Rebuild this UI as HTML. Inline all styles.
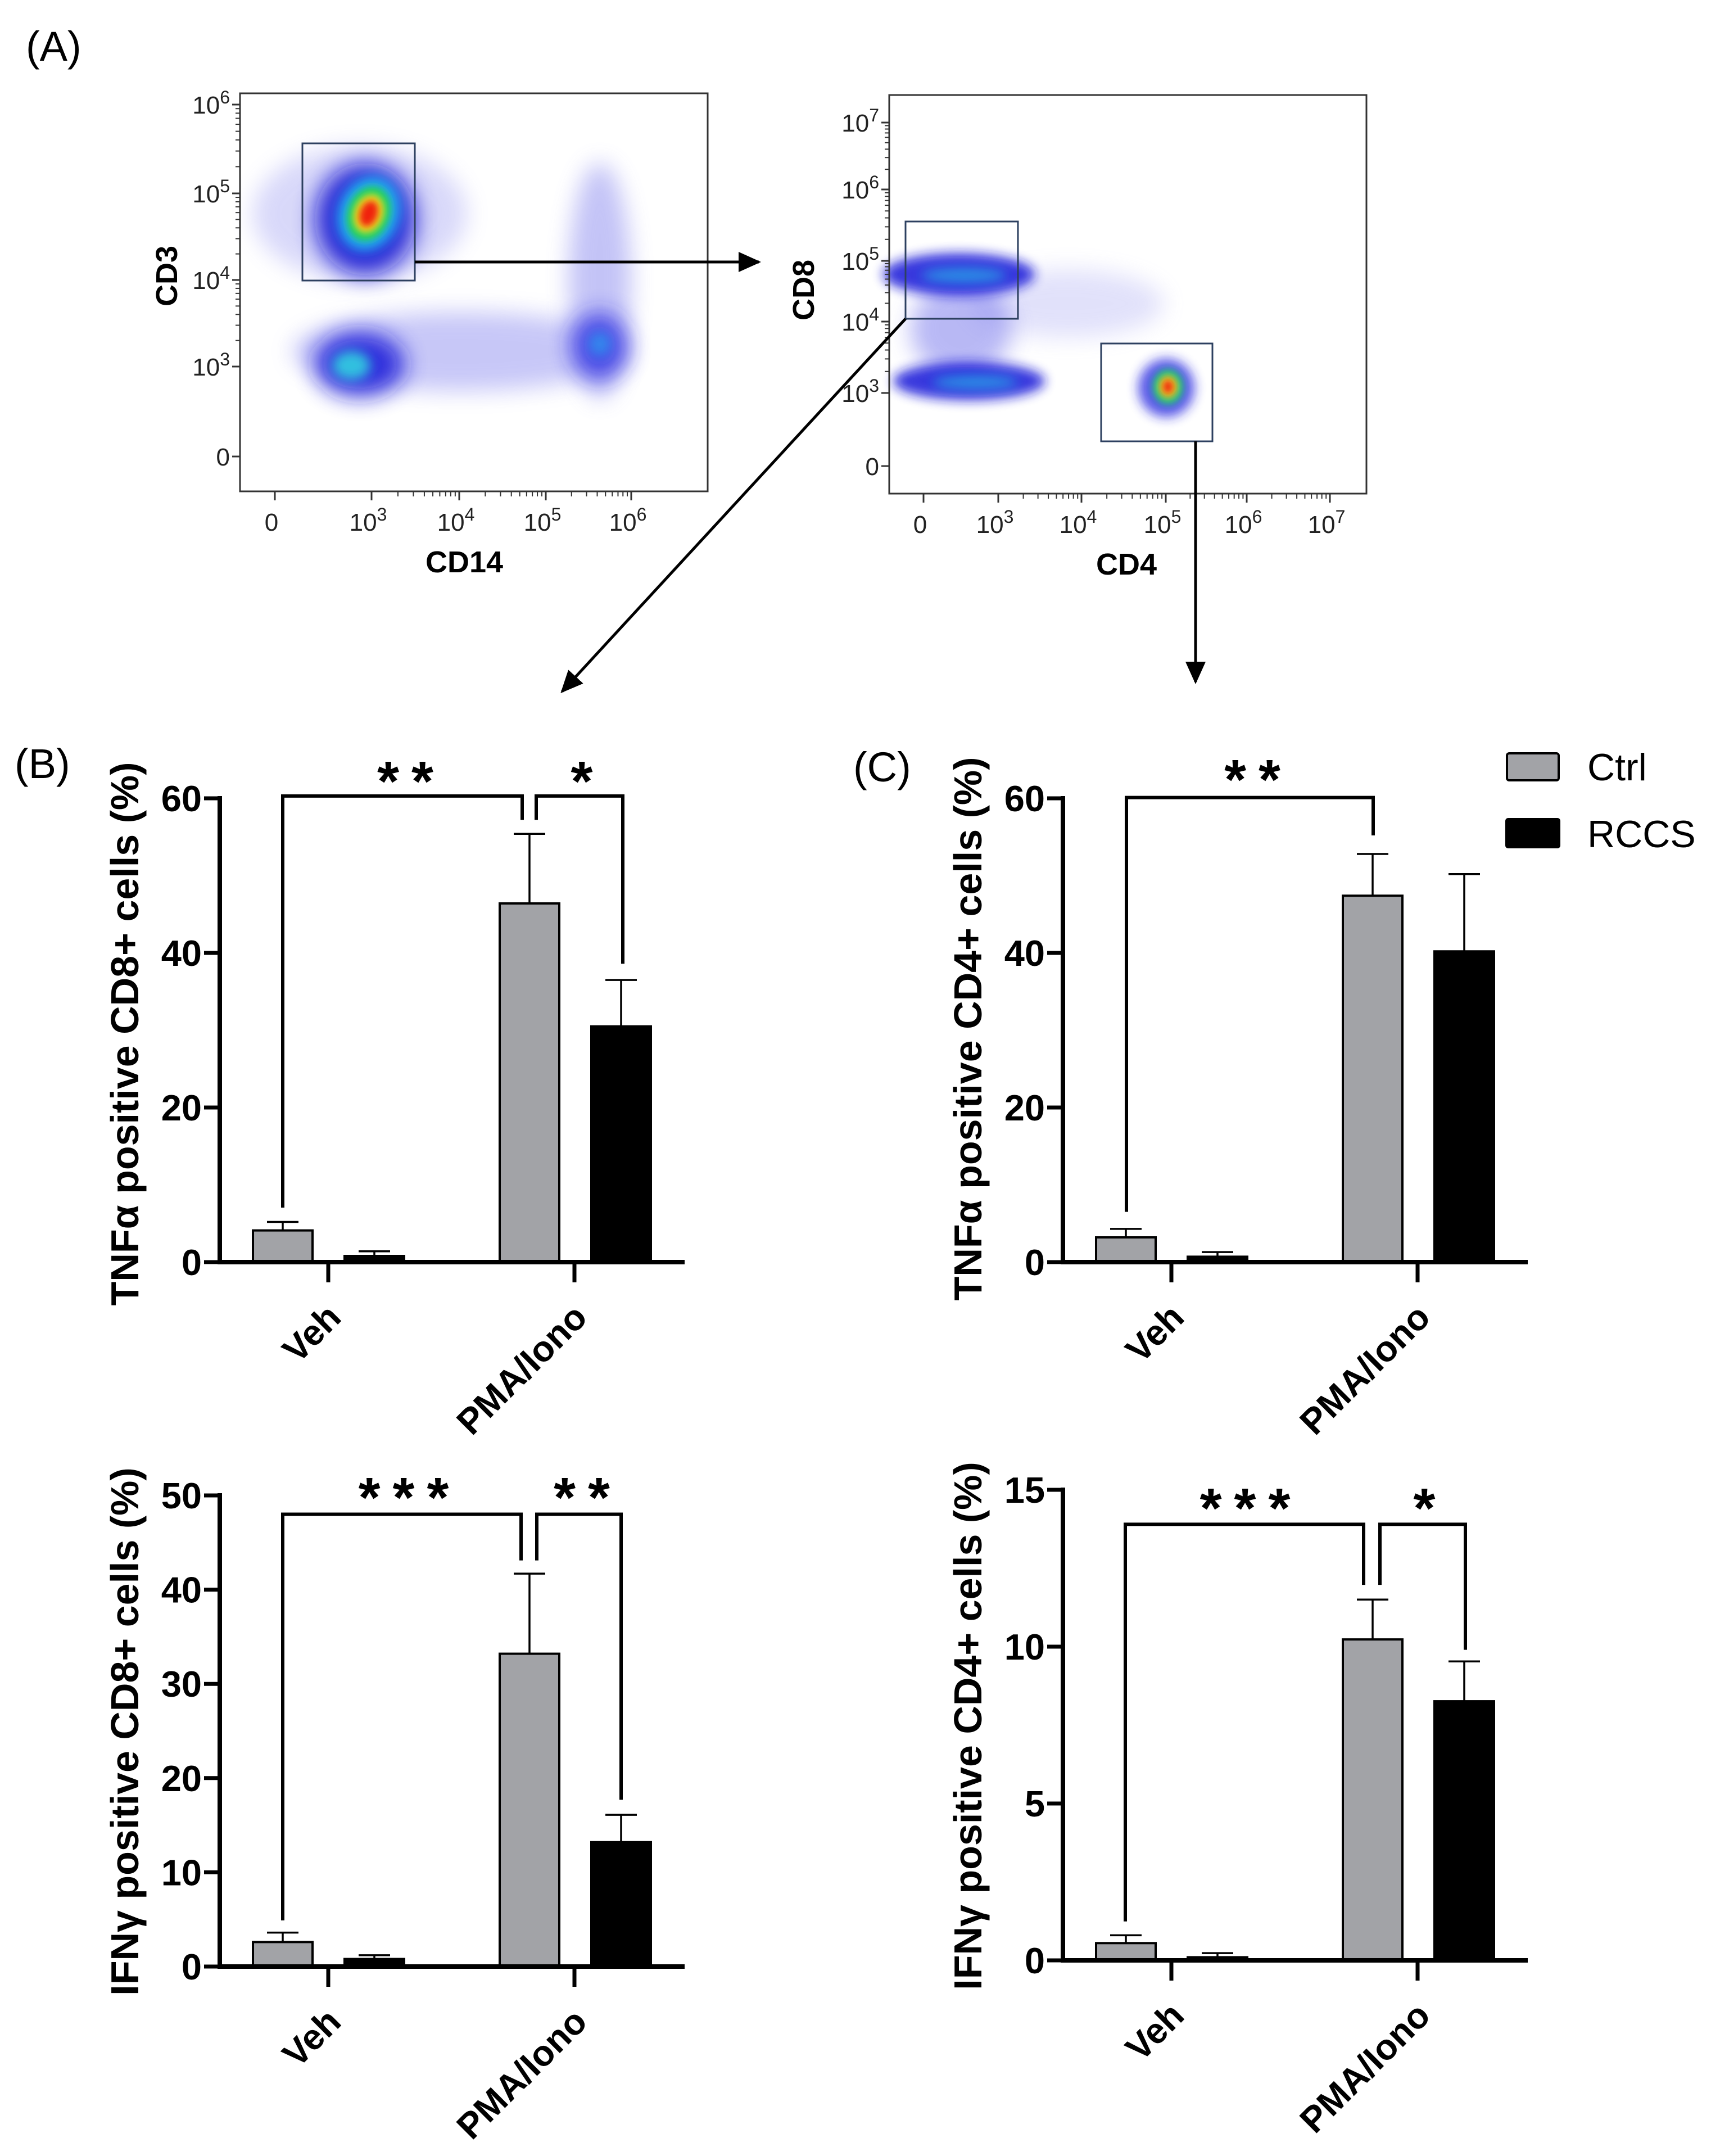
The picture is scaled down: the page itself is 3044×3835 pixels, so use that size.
<!DOCTYPE html>
<html><head><meta charset="utf-8"><style>
html,body{margin:0;padding:0;background:#fff}
svg{display:block}
text{font-family:"Liberation Sans",Arial,sans-serif}
</style></head><body>
<svg id="fig" width="3044" height="3835" viewBox="0 0 3044 3835" xmlns="http://www.w3.org/2000/svg">
<defs>
<filter id="blur20" x="-50%" y="-50%" width="200%" height="200%"><feGaussianBlur stdDeviation="20"/></filter>
<filter id="blur10" x="-50%" y="-50%" width="200%" height="200%"><feGaussianBlur stdDeviation="10"/></filter>
<filter id="blur6" x="-50%" y="-50%" width="200%" height="200%"><feGaussianBlur stdDeviation="6"/></filter>
<marker id="ahb" markerWidth="40" markerHeight="40" refX="36" refY="20" orient="auto" markerUnits="userSpaceOnUse"><path d="M0,2 L40,20 L0,38 z" fill="#000"/></marker>
</defs>

<text x="46" y="108" font-size="74">(A)</text>
<text x="26" y="1384" font-size="74">(B)</text>
<text x="1518" y="1390" font-size="74">(C)</text>

<!-- Flow plot 1 -->
<g>
  <g>
    <ellipse cx="640" cy="380" rx="190" ry="120" fill="#8080ee" opacity="0.3" filter="url(#blur20)"/>
    <ellipse cx="820" cy="625" rx="300" ry="70" fill="#6060ea" opacity="0.35" filter="url(#blur20)"/>
    <ellipse cx="1067" cy="500" rx="55" ry="210" fill="#6a6aea" opacity="0.4" filter="url(#blur20)"/>
    <ellipse cx="1067" cy="615" rx="50" ry="60" fill="#2020e0" opacity="0.7" filter="url(#blur20)"/>
    <ellipse cx="1067" cy="612" rx="20" ry="22" fill="#2aa0f0" opacity="0.7" filter="url(#blur10)"/>
    <ellipse cx="640" cy="648" rx="80" ry="58" fill="#1818d8" opacity="0.85" filter="url(#blur20)"/>
    <ellipse cx="625" cy="650" rx="34" ry="26" fill="#30d0e0" opacity="0.9" filter="url(#blur10)"/>
    <ellipse cx="650" cy="390" rx="90" ry="100" fill="#1010d0" opacity="0.85" filter="url(#blur20)"/>
    <ellipse cx="656" cy="380" rx="55" ry="68" fill="#20a8f0" filter="url(#blur10)" transform="rotate(20 656 380)"/>
    <ellipse cx="656" cy="380" rx="38" ry="50" fill="#20d060" filter="url(#blur6)" transform="rotate(20 656 380)"/>
    <ellipse cx="656" cy="380" rx="26" ry="35" fill="#f0e020" filter="url(#blur6)" transform="rotate(20 656 380)"/>
    <ellipse cx="656" cy="380" rx="16" ry="24" fill="#f02010" filter="url(#blur6)" transform="rotate(20 656 380)"/>
  </g>
  <rect x="427" y="166" width="832" height="708" fill="none" stroke="#333" stroke-width="3"/>
  <rect x="538" y="255" width="200" height="244" fill="none" stroke="#2d4060" stroke-width="3"/>
  <g id="p1ticks"></g>
  <text x="826" y="1018" font-size="54" font-weight="bold" text-anchor="middle">CD14</text>
  <text x="315" y="491" font-size="54" font-weight="bold" text-anchor="middle" transform="rotate(-90 315 491)">CD3</text>
</g>
<line x1="738" y1="466" x2="1350" y2="466" stroke="#000" stroke-width="5" marker-end="url(#ahb)"/>

<!-- Flow plot 2 -->
<g>
  <g>
    <ellipse cx="1900" cy="540" rx="170" ry="60" fill="#8a8aee" opacity="0.25" filter="url(#blur20)"/>
    <ellipse cx="1710" cy="585" rx="90" ry="85" fill="#5050e6" opacity="0.4" filter="url(#blur20)"/>
    <ellipse cx="1706" cy="488" rx="135" ry="38" fill="#1818d8" opacity="0.85" filter="url(#blur10)"/>
    <ellipse cx="1715" cy="490" rx="75" ry="14" fill="#28b0e8" opacity="0.7" filter="url(#blur10)"/>
    <ellipse cx="1724" cy="678" rx="135" ry="34" fill="#1818d8" opacity="0.85" filter="url(#blur10)"/>
    <ellipse cx="1735" cy="680" rx="75" ry="13" fill="#28b0e8" opacity="0.7" filter="url(#blur10)"/>
    <ellipse cx="2075" cy="690" rx="50" ry="52" fill="#2020e0" opacity="0.75" filter="url(#blur10)"/>
    <ellipse cx="2078" cy="688" rx="28" ry="32" fill="#20c080" filter="url(#blur6)"/>
    <ellipse cx="2078" cy="688" rx="17" ry="20" fill="#f0d020" filter="url(#blur6)"/>
    <ellipse cx="2078" cy="688" rx="9" ry="12" fill="#f02010" filter="url(#blur6)"/>
  </g>
  <rect x="1582" y="169" width="849" height="709" fill="none" stroke="#333" stroke-width="3"/>
  <rect x="1611" y="394" width="200" height="173" fill="none" stroke="#2d4060" stroke-width="3"/>
  <rect x="1959" y="611" width="198" height="174" fill="none" stroke="#2d4060" stroke-width="3"/>
  <g id="p2ticks"></g>
  <text x="2004" y="1022" font-size="54" font-weight="bold" text-anchor="middle">CD4</text>
  <text x="1448" y="516" font-size="54" font-weight="bold" text-anchor="middle" transform="rotate(-90 1448 516)">CD8</text>
</g>
<line x1="1611" y1="567" x2="1000" y2="1230" stroke="#000" stroke-width="5" marker-end="url(#ahb)"/>
<line x1="2127" y1="785" x2="2127" y2="1213" stroke="#000" stroke-width="5" marker-end="url(#ahb)"/>

<!-- Legend -->
<g>
  <rect x="2681" y="1340" width="92" height="48" rx="4" fill="#a2a3a7" stroke="#000" stroke-width="4"/>
  <text x="2824" y="1388" font-size="68">Ctrl</text>
  <rect x="2678" y="1455" width="98" height="54" rx="5" fill="#000"/>
  <text x="2824" y="1507" font-size="68">RCCS</text>
</g>

<g id="charts"></g>
</svg>

<script>
// ===== Chart data =====
const categories = ["Veh", "PMA/Iono"];
const seriesNames = ["Ctrl", "RCCS"];
// TNFα CD8+ (B top)
const tnfCd8Mean = [4.1, 0.8, 46.4, 30.5];
const tnfCd8Err  = [5.2, 1.4, 55.4, 36.5];
const tnfCd8Ticks = [0, 20, 40, 60];
// IFNγ CD8+ (B bottom)
const ifnCd8Mean = [2.6, 0.8, 33.2, 13.2];
const ifnCd8Err  = [3.6, 1.2, 41.7, 16.1];
const ifnCd8Ticks = [0, 10, 20, 30, 40, 50];
// TNFα CD4+ (C top)
const tnfCd4Mean = [3.2, 0.7, 47.4, 40.2];
const tnfCd4Err  = [4.3, 1.3, 52.8, 50.2];
const tnfCd4Ticks = [0, 20, 40, 60];
// IFNγ CD4+ (C bottom)
const ifnCd4Mean = [0.55, 0.1, 10.23, 8.26];
const ifnCd4Err  = [0.8, 0.23, 11.5, 9.53];
const ifnCd4Ticks = [0, 5, 10, 15];
// Significance labels
const tnfCd8Sig = ["**", "*"];
const ifnCd8Sig = ["***", "**"];
const tnfCd4Sig = ["**"];
const ifnCd4Sig = ["***", "*"];

const NS = "http://www.w3.org/2000/svg";
function mk(tag, attrs, parent) {
  const e = document.createElementNS(NS, tag);
  for (const k in attrs) e.setAttribute(k, attrs[k]);
  parent.appendChild(e);
  return e;
}

const charts = document.getElementById('charts');

function drawChart(cfg) {
  const g = mk('g', {}, charts);
  
  
  const off = cfg.off;
  const ax = 391 + off, axEnd = 1218 + off;
  const y = v => cfg.y0 - (v / cfg.max) * (cfg.y0 - cfg.yTop);
  const barLeft = [450, 613, 889, 1052].map(v => v + off);
  const bw = 106;
  const tickX = [584 + off, 1022 + off];
  const fills = ["#a2a3a7", "#000"];
  cfg.mean.forEach((m, i) => {
    const cx = barLeft[i] + bw / 2;
    const el = mk('line', {x1: cx, x2: cx, y1: y(m), y2: y(cfg.err[i]), stroke: '#000', 'stroke-width': 3.5}, g);
    
    
    const cap = mk('line', {x1: cx - 28, x2: cx + 28, y1: y(cfg.err[i]), y2: y(cfg.err[i]), stroke: '#000', 'stroke-width': 3.5}, g);
    
    
    const r = mk('rect', {x: barLeft[i], y: y(m), width: bw, height: cfg.y0 - y(m), fill: fills[i % 2], stroke: '#000', 'stroke-width': 4}, g);
    
    
  });
  const ya = mk('line', {x1: ax, x2: ax, y1: cfg.yTop - 4, y2: cfg.y0 + 4, stroke: '#000', 'stroke-width': 8}, g);
  
  
  const xa = mk('line', {x1: ax - 4, x2: axEnd, y1: cfg.y0, y2: cfg.y0, stroke: '#000', 'stroke-width': 8}, g);
  
  
  cfg.ticks.forEach(t => {
    const tl = mk('line', {x1: ax - 28, x2: ax, y1: y(t), y2: y(t), stroke: '#000', 'stroke-width': 7}, g);
    
    
    const tx = mk('text', {x: ax - 32, y: y(t) + 23, 'font-size': 65, 'font-weight': 'bold', 'text-anchor': 'end'}, g);
    tx.textContent = t;
    
    
  });
  categories.forEach((c, i) => {
    const tl = mk('line', {x1: tickX[i], x2: tickX[i], y1: cfg.y0, y2: cfg.y0 + 36, stroke: '#000', 'stroke-width': 7}, g);
    
    
    const lx = tickX[i] + 26, ly = cfg.y0 + 102;
    const tx = mk('text', {x: lx, y: ly, 'font-size': 64, 'font-weight': 'bold', 'text-anchor': 'end', transform: `rotate(-45 ${lx} ${ly})`}, g);
    tx.textContent = c;
    
    
  });
  const tX = 246 + off, tY = cfg.titleY;
  const tt = mk('text', {x: tX, y: tY, 'font-size': 70, 'font-weight': 'bold', 'text-anchor': 'middle', transform: `rotate(-90 ${tX} ${tY})`}, g);
  tt.textContent = cfg.title;
  
  
  cfg.brackets.forEach((b, k) => {
    const p = mk('path', {d: `M${b.x1 + off},${y(b.l)} V${y(b.top)} H${b.x2 + off} V${y(b.r)}`, fill: 'none', stroke: '#000', 'stroke-width': 6}, g);
    
    
    const s = mk('text', {x: b.sx + off, y: b.sy + 58, 'font-size': 100, 'font-weight': 'bold', 'text-anchor': 'middle', 'letter-spacing': 22}, g);
    s.textContent = cfg.sig[k];
    
    
  });
}

drawChart({name: 'chart-tnf-cd8', off: 0, y0: 2245, yTop: 1420, max: 60, ticks: tnfCd8Ticks,
  mean: tnfCd8Mean, err: tnfCd8Err, sig: tnfCd8Sig, title: 'TNFα positive CD8+ cells (%)', titleY: 1839,
  brackets: [{x1: 503, x2: 929, top: 60.3, l: 7.05, r: 57.2, sx: 732, sy: 1366},
             {x1: 954, x2: 1108, top: 60.3, l: 57.2, r: 38.6, sx: 1046, sy: 1366}]});
drawChart({name: 'chart-ifn-cd8', off: 0, y0: 3498, yTop: 2660, max: 50, ticks: ifnCd8Ticks,
  mean: ifnCd8Mean, err: ifnCd8Err, sig: ifnCd8Sig, title: 'IFNγ positive CD8+ cells (%)', titleY: 3080,
  brackets: [{x1: 503, x2: 927, top: 48.0, l: 4.9, r: 43.1, sx: 729, sy: 2640},
             {x1: 955, x2: 1105, top: 48.0, l: 43.1, r: 17.7, sx: 1046, sy: 2640}]});
drawChart({name: 'chart-tnf-cd4', off: 1500, y0: 2245, yTop: 1420, max: 60, ticks: tnfCd4Ticks,
  mean: tnfCd4Mean, err: tnfCd4Err, sig: tnfCd4Sig, title: 'TNFα positive CD4+ cells (%)', titleY: 1830,
  brackets: [{x1: 504, x2: 943, top: 60.1, l: 6.5, r: 55.2, sx: 739, sy: 1363}]});
drawChart({name: 'chart-ifn-cd4', off: 1500, y0: 3487, yTop: 2650, max: 15, ticks: ifnCd4Ticks,
  mean: ifnCd4Mean, err: ifnCd4Err, sig: ifnCd4Sig, title: 'IFNγ positive CD4+ cells (%)', titleY: 3070,
  brackets: [{x1: 502, x2: 926, top: 13.9, l: 1.24, r: 11.97, sx: 726, sy: 2659},
             {x1: 955, x2: 1107, top: 13.9, l: 11.97, r: 9.9, sx: 1045, sy: 2659}]});

// ===== Flow plot ticks =====
const p1YLabels = ["0", "3", "4", "5", "6"];
const p1XLabels = ["0", "3", "4", "5", "6"];
const p2YLabels = ["0", "3", "4", "5", "6", "7"];
const p2XLabels = ["0", "3", "4", "5", "6", "7"];

function flowTicks(gid, frame, yPos, yLab, xPos, xLab, labY) {
  const g = document.getElementById(gid);
  yPos.forEach((py, i) => {
    const l = mk('line', {x1: frame.x - 14, x2: frame.x, y1: py, y2: py, stroke: '#333', 'stroke-width': 3}, g);
    
    
    const t = mk('text', {x: frame.x - 18, y: py + 16, 'font-size': 44, 'text-anchor': 'end', fill: '#222'}, g);
    
    
    if (yLab[i] === "0") t.textContent = "0";
    else { t.textContent = "10"; const s = mk('tspan', {dy: -18, 'font-size': 32}, t); s.textContent = yLab[i]; }
  });
  for (let i = 1; i < yPos.length - 1; i++) {
    const a = yPos[i], b = yPos[i + 1];
    for (let k = 2; k < 10; k++) {
      const my = a + (b - a) * Math.log10(k);
      const l = mk('line', {x1: frame.x - 8, x2: frame.x, y1: my, y2: my, stroke: '#333', 'stroke-width': 2}, g);
      
      
    }
  }
  xPos.forEach((px, i) => {
    const l = mk('line', {x1: px, x2: px, y1: frame.y, y2: frame.y + 16, stroke: '#333', 'stroke-width': 3}, g);
    
    
    const t = mk('text', {x: px - 6, y: labY, 'font-size': 44, 'text-anchor': 'middle', fill: '#222'}, g);
    
    
    if (xLab[i] === "0") t.textContent = "0";
    else { t.textContent = "10"; const s = mk('tspan', {dy: -18, 'font-size': 32}, t); s.textContent = xLab[i]; }
  });
  for (let i = 1; i < xPos.length - 1; i++) {
    const a = xPos[i], b = xPos[i + 1];
    for (let k = 2; k < 10; k++) {
      const mx = a + (b - a) * Math.log10(k);
      const l = mk('line', {x1: mx, x2: mx, y1: frame.y, y2: frame.y + 9, stroke: '#333', 'stroke-width': 2}, g);
      
      
    }
  }
}
flowTicks('p1ticks', {x: 427, y: 874}, [812, 652, 498, 344, 186], p1YLabels, [489, 661, 817, 971, 1123], p1XLabels, 944);
flowTicks('p2ticks', {x: 1582, y: 878}, [829, 699, 572, 464, 337, 218], p2YLabels, [1643, 1776, 1924, 2074, 2218, 2366], p2XLabels, 948);
</script>
</body></html>
